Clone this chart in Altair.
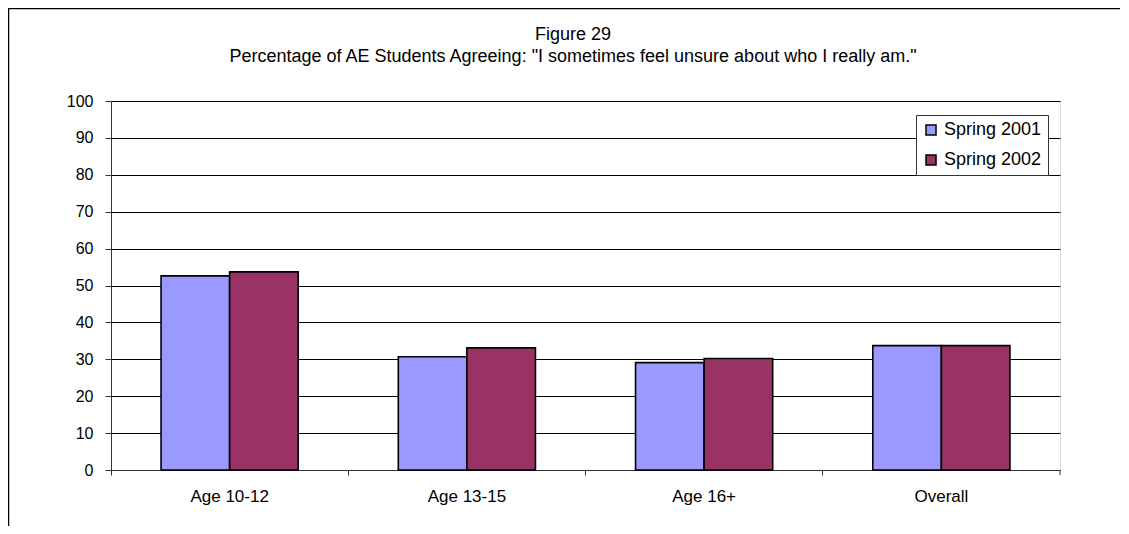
import altair as alt
import pandas as pd

categories = ["Age 10-12", "Age 13-15", "Age 16+", "Overall"]
series = ["Spring 2001", "Spring 2002"]
spring_2001 = [52.6, 30.7, 29.1, 33.7]
spring_2002 = [53.7, 33.1, 30.2, 33.7]
y_ticks = list(range(0, 101, 10))
colors = ["#9999FF", "#993366"]
title_lines = [
    "Figure 29",
    'Percentage of AE Students Agreeing: "I sometimes feel unsure about who I really am."',
]

rows = []
for c, a, b in zip(categories, spring_2001, spring_2002):
    rows.append({"cat": c, "series": series[0], "value": a})
    rows.append({"cat": c, "series": series[1], "value": b})
df = pd.DataFrame(rows)

W, H = 949, 369
FONT = "Liberation Sans"

bars = alt.Chart(df).mark_bar(stroke="black", strokeWidth=1.6).encode(
    x=alt.X(
        "cat:N", sort=categories, title=None,
        scale=alt.Scale(paddingInner=0, paddingOuter=0),
        axis=alt.Axis(labelAngle=0, bandPosition=0, tickSize=5, labelPadding=13,
                      domainColor="#333333", tickColor="#333333",
                      labelFontSize=17, labelColor="black", labelFont=FONT),
    ),
    xOffset=alt.XOffset("series:N", sort=series,
                        scale=alt.Scale(paddingInner=0, paddingOuter=0.73)),
    y=alt.Y(
        "value:Q", title=None, scale=alt.Scale(domain=[0, 100]),
        axis=alt.Axis(values=y_ticks, grid=True, gridColor="black", gridWidth=1,
                      tickSize=6, labelPadding=12, domainColor="#333333",
                      tickColor="#333333", labelFontSize=16, labelColor="black",
                      labelFont=FONT),
    ),
    color=alt.Color(
        "series:N", sort=series,
        scale=alt.Scale(domain=series, range=colors),
        legend=alt.Legend(title=None, orient="none", legendX=805, legendY=14,
                          symbolType="square", symbolSize=100,
                          symbolStrokeColor="black", symbolStrokeWidth=1.5,
                          labelFontSize=18, labelFont=FONT, labelColor="black",
                          labelOffset=4,
                          strokeColor="#333333", fillColor="white",
                          padding=6, rowPadding=12),
    ),
)

end_tick = alt.Chart(alt.Data(values=[{}])).mark_rule(color="#333333").encode(
    x=alt.value(W), y=alt.value(H), y2=alt.value(H + 5)
)
frame_left = alt.Chart(alt.Data(values=[{}])).mark_rule(color="black", strokeWidth=1.5).encode(
    x=alt.value(-102.5), y=alt.value(-93), y2=alt.value(440)
)
frame_top = alt.Chart(alt.Data(values=[{}])).mark_rule(color="black", strokeWidth=1.5).encode(
    x=alt.value(-103), x2=alt.value(1009), y=alt.value(-92.5)
)
title1 = alt.Chart(alt.Data(values=[{}])).mark_text(
    text=title_lines[0], font=FONT, fontSize=18, color="black",
    align="center", baseline="alphabetic"
).encode(x=alt.value(462), y=alt.value(-61))
title2 = alt.Chart(alt.Data(values=[{}])).mark_text(
    text=title_lines[1], font=FONT, fontSize=18, color="black",
    align="center", baseline="alphabetic"
).encode(x=alt.value(462), y=alt.value(-39))

chart = alt.layer(bars, end_tick, frame_left, frame_top, title1, title2).properties(
    width=W, height=H,
    autosize=alt.AutoSizeParams(type="none"),
    padding={"left": 103, "top": 93, "right": 61, "bottom": 56},
).configure_view(stroke="#808080", strokeWidth=1.5).configure(background="white")

chart.save("out.html", embed_options={"renderer": "svg", "actions": False})
